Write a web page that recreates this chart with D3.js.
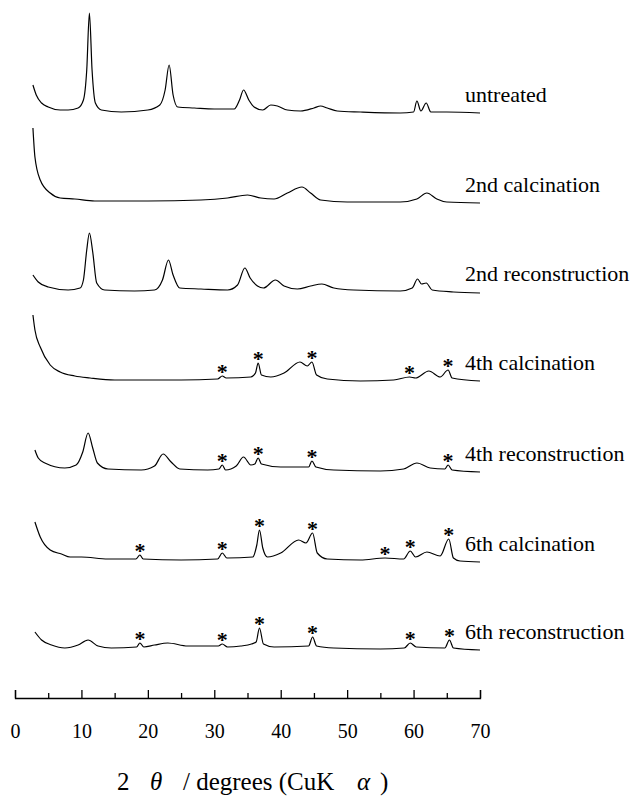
<!DOCTYPE html>
<html>
<head>
<meta charset="utf-8">
<script src="https://cdn.jsdelivr.net/npm/d3@7"></script>
<style>
  body { margin: 0; background: #fff; }
</style>
</head>
<body>
<div id="chart"></div>
<script>
// XRD patterns, [2theta (deg), intensity (a.u.) above each pattern's background]
const untreated = [[2.7,28],[3.2,18],[4,10],[5,6],[6.8,3],[8,3],[9.5,5],[10.3,13],[10.8,43],[11.2,100],[11.6,43],[12.1,10],[13,3],[16,1],[20,3],[21.8,8],[22.6,23],[23.2,48],[23.8,18],[24.5,6],[27,5],[30,4],[33,4],[33.8,13],[34.4,23],[35.2,13],[36,6],[37.3,3],[38.5,8],[39.5,7],[41,3],[43,2],[45,5],[46,7],[47,5],[48.5,2],[52,1],[58,0],[60,1],[60.5,12],[61.1,2],[61.9,10],[62.6,1],[65,1],[70,0]];
const calc2 = [[2.7,75],[3.0,46],[3.8,23],[5.3,10],[6.8,5],[9,4],[12,2],[20,2],[28,3],[32,5],[35,8],[37,5],[39,4],[41,10],[43.2,16],[44.5,10],[46,3],[50,1],[58,1],[60.5,4],[62,10],[63.5,4],[65,1],[70,0]];
const recon2 = [[2.7,17],[3.5,10],[5,5],[8,2],[9.8,4],[10.3,12],[10.8,42],[11.2,59],[11.7,40],[12.3,9],[13.5,2],[18,1],[21,2],[22.2,12],[23.1,32],[23.8,17],[24.8,4],[28,3],[32,2],[33.5,7],[34.6,24],[35.4,14],[36.5,6],[37.4,4],[39.2,12],[40.5,6],[42.5,3],[44.5,6],[46.2,8],[48,4],[51,2],[58,1],[59.8,4],[60.6,13],[61.2,8],[61.9,9],[62.8,2],[66,0],[70,-1]];
const calc4 = [[2.7,66],[3.0,51],[3.8,34],[5.3,16],[6.8,9],[9,5],[11.3,3],[15,1],[25,1],[30.5,2],[31.2,5],[31.8,3],[35.5,4],[36.2,8],[36.6,18],[37.1,6],[38.5,4],[40.5,8],[42.9,19],[44,15],[44.7,19],[45.4,6],[47,2],[52,0],[57,1],[59.4,4],[60.3,3],[62.3,10],[64,4],[65.2,11],[65.8,3],[70,0]];
const recon4 = [[3.0,22],[3.5,14],[4.5,9],[7.5,4],[9.2,7],[10.2,20],[11,39],[11.7,24],[12.4,9],[14,3],[19,2],[21,6],[22.3,18],[23.5,10],[24.8,3],[29,2],[30.7,3],[31.2,7],[31.7,2],[33.3,6],[34.4,15],[35.5,7],[36.1,8],[36.6,14],[37.1,8],[40,5],[44.2,5],[44.7,11],[45.3,5],[48,2],[55,1],[58.5,3],[60.5,9],[62.5,4],[64.7,3],[65.2,7],[65.8,2],[70,0]];
const calc6 = [[3.0,40],[3.8,25],[5.3,12],[7,8],[8.3,5],[10,5],[14,3],[18.2,3],[18.8,7],[19.3,3],[25,2],[30.5,3],[31.2,9],[31.9,4],[35.8,5],[36.4,17],[36.8,32],[37.3,14],[38,5],[40,9],[42.7,22],[43.8,19],[44.8,29],[45.5,9],[47,3],[52,2],[55.7,4],[58.5,3],[59.5,11],[60.3,5],[62,10],[64,6],[65.3,23],[66,4],[67,1],[70,0]];
const recon6 = [[3.0,18],[4,10],[5.5,5],[7.5,2],[9.5,5],[11,10],[12.5,4],[14.5,2],[18.3,3],[18.8,7],[19.4,3],[21,5],[23,7],[26,4],[30.6,4],[31.2,6],[32,3],[34,4],[35.6,6],[36.3,8],[36.8,22],[37.4,6],[39,3],[44.2,4],[44.8,13],[45.4,4],[48,2],[55,1],[58.6,2],[59.5,7],[60.4,3],[64.7,2],[65.4,10],[66,2],[70,0]];

const patterns = [untreated, calc2, recon2, calc4, recon4, calc6, recon6];
const labels = ["untreated", "2nd calcination", "2nd reconstruction", "4th calcination",
                "4th reconstruction", "6th calcination", "6th reconstruction"];
// peaks marked with * (2theta), per pattern
const stars = [[], [], [], [31.2, 36.6, 44.7, 59.4, 65.2], [31.2, 36.6, 44.7, 65.2],
               [18.8, 31.2, 36.8, 44.8, 55.7, 59.5, 65.3], [18.8, 31.2, 36.8, 44.8, 59.5, 65.4]];
const majorTicks = [0, 10, 20, 30, 40, 50, 60, 70];
const minorTicks = [5, 15, 25, 35, 45, 55, 65];

// vertical stacking offsets (a.u.)
const offsets = [587, 497, 408, 319, 228, 138, 50];

const width = 632, height = 800;
const axisY = 698;
const serif = "Liberation Serif";

const svg = d3.select("#chart").append("svg")
  .attr("width", width).attr("height", height);
svg.append("rect").attr("width", width).attr("height", height).attr("fill", "#fff");

const x = d3.scaleLinear().domain([0, 70]).range([15, 480]);
const y = d3.scaleLinear().domain([0, 700]).range([700, 0]);

const line = d3.line()
  .x(d => x(d[0]))
  .y(d => y(d[1]))
  .curve(d3.curveMonotoneX);

patterns.forEach((p, i) => {
  const off = offsets[i];
  svg.append("path")
    .datum(p.map(d => [d[0], d[1] + off]))
    .attr("d", line)
    .attr("fill", "none")
    .attr("stroke", "#000")
    .attr("stroke-width", 1.2)
    .attr("stroke-linejoin", "round");

  svg.append("text")
    .attr("x", 465)
    .attr("y", y(off) - 11)
    .attr("font-size", 22)
    .style("font-family", serif)
    .text(labels[i]);

  // stars sit just above the peak they mark
  stars[i].forEach(t => {
    const near = p.filter(d => Math.abs(d[0] - t) < 0.8);
    const top = d3.max(near, d => d[1]);
    svg.append("text")
      .attr("x", x(t))
      .attr("y", y(top + off) + 3)
      .attr("text-anchor", "middle")
      .attr("font-size", 22)
      .attr("font-weight", "bold")
      .style("font-family", serif)
      .text("*");
  });
});

// x axis: ticks point up, labels well below
const gx = svg.append("g").attr("transform", `translate(0,${axisY})`);
gx.call(d3.axisBottom(x).tickValues(majorTicks).tickSizeInner(-8).tickSizeOuter(-8).tickPadding(26));
gx.attr("font-family", null);
gx.select(".domain").attr("stroke-width", 1.3);
gx.selectAll(".tick line").attr("stroke-width", 1.3);
gx.selectAll(".tick text")
  .attr("font-size", 20)
  .style("font-family", serif);

const gm = svg.append("g").attr("transform", `translate(0,${axisY})`);
gm.call(d3.axisBottom(x).tickValues(minorTicks).tickSize(-5).tickFormat(""));
gm.select(".domain").remove();
gm.selectAll(".tick line").attr("stroke-width", 1.3);

// axis title
const title = svg.append("text").attr("y", 790).attr("font-size", 25).style("font-family", serif);
title.append("tspan").attr("x", 117).text("2");
title.append("tspan").attr("x", 150).attr("font-style", "italic").text("θ");
title.append("tspan").attr("x", 183).text("/ degrees (CuK");
title.append("tspan").attr("x", 357).attr("font-style", "italic").text("α");
title.append("tspan").attr("x", 380).text(")");
</script>
</body>
</html>
